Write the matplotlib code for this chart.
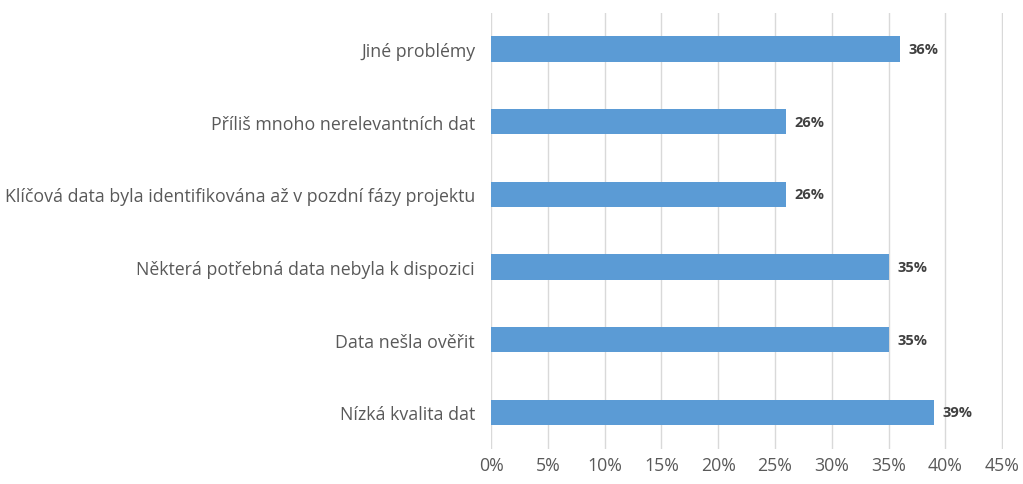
import matplotlib
matplotlib.use("Agg")
import matplotlib.pyplot as plt
from matplotlib.ticker import FuncFormatter, MultipleLocator

plt.rcParams['font.family'] = ['Open Sans', 'DejaVu Sans']

categories = [
    "Nízká kvalita dat",
    "Data nešla ověřit",
    "Některá potřebná data nebyla k dispozici",
    "Klíčová data byla identifikována až v pozdní fázy projektu",
    "Příliš mnoho nerelevantních dat",
    "Jiné problémy",
]
values = [39, 35, 35, 26, 26, 36]

fig = plt.figure(figsize=(10.23, 4.85), dpi=100)
# a hair past 45% so the last gridline isn't clipped
ax = fig.add_axes([0.48, 0.073, 0.5007, 0.899])

y = range(len(categories))
ax.barh(y, values, height=0.35, color="#5B9BD5", zorder=3)

for yi, v in zip(y, values):
    ax.text(v + 0.75, yi, f"{v}%", va="center", ha="left",
            fontsize=10.5, fontweight="bold", color="#404040")

ax.set_xlim(0, 45.1)
ax.set_ylim(-0.5, len(categories) - 0.5)
ax.xaxis.set_major_locator(MultipleLocator(5))
ax.xaxis.set_major_formatter(FuncFormatter(lambda x, _: f"{x:.0f}%"))
ax.set_yticks(list(y))
ax.set_yticklabels(categories)

ax.grid(axis="x", color="#D9D9D9", linewidth=1, zorder=0)
for s in ax.spines.values():
    s.set_visible(False)
ax.tick_params(length=0, labelsize=12.8, colors="#595959")
ax.tick_params(axis="y", pad=11.5)
ax.tick_params(axis="x", pad=5)

fig.savefig("out.png", dpi=100)
